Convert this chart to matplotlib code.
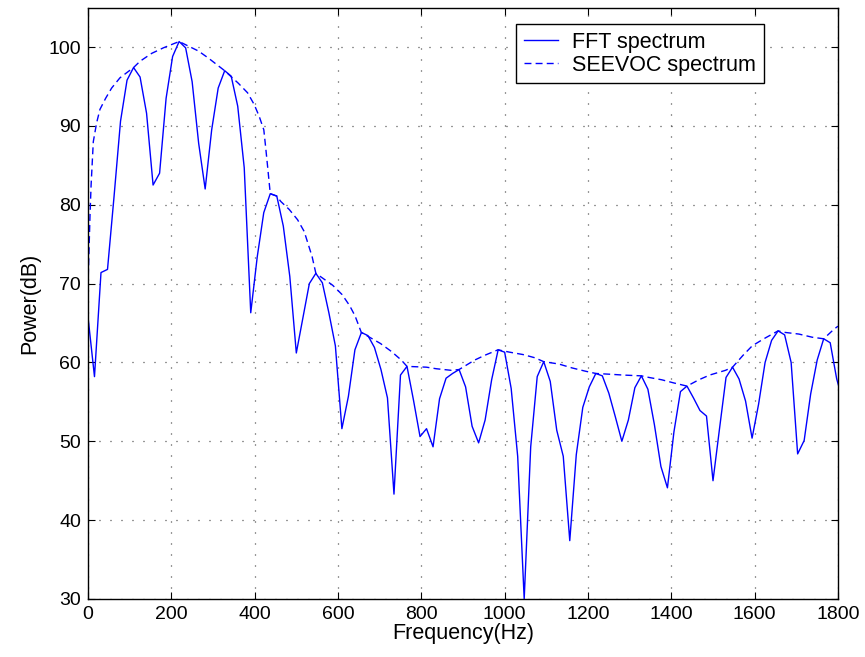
import numpy as np
import matplotlib
matplotlib.use("Agg")
import matplotlib.pyplot as plt

# ---------------------------------------------------------
# Data
# ---------------------------------------------------------
bin_hz = 15.625  # FFT bin spacing (8 kHz / 512)

fft_db = [
    65.8, 58.2, 71.4, 71.8, 81.0, 90.6, 95.8, 97.4, 96.2, 91.6,
    82.5, 84.0, 93.5, 98.8, 100.7, 99.9, 95.6, 87.8, 82.0, 89.5,
    94.8, 97.0, 96.3, 92.5, 84.7, 66.3, 73.4, 79.0, 81.4, 81.1,
    77.3, 70.9, 61.2, 65.6, 70.0, 71.3, 70.1, 66.3, 62.1, 51.6,
    55.7, 61.6, 63.8, 63.4, 61.9, 59.1, 55.5, 43.3, 58.4, 59.5,
    55.2, 50.6, 51.6, 49.3, 55.4, 58.0, 58.6, 59.1, 56.9, 51.9,
    49.8, 52.7, 57.8, 61.6, 61.3, 56.7, 48.1, 30.0, 49.3, 58.2,
    60.1, 57.6, 51.4, 48.1, 37.4, 48.3, 54.3, 56.9, 58.6, 58.3,
    56.1, 53.1, 50.0, 52.7, 56.8, 58.3, 56.6, 52.1, 46.8, 44.1,
    51.2, 56.3, 57.0, 55.5, 53.9, 53.2, 45.0, 51.6, 58.1, 59.4,
    57.9, 55.1, 50.4, 54.7, 60.0, 62.8, 64.0, 63.5, 60.0, 48.4,
    50.1, 56.0, 60.3, 63.0, 62.5, 57.9, 55.0,
]

seevoc_hz = [
    0, 2.4, 4.8, 7.5, 10.4, 12.8, 20.8, 28.8, 42.4, 56.8,
    76.8, 109.4, 125, 153, 181, 218.75, 265, 289, 328, 361,
    383, 399, 411, 422, 427, 431, 437.5, 453, 463, 483,
    503, 519, 538, 546.9, 563, 587, 610, 628, 641, 656,
    702, 728, 752, 765.6, 812, 836, 872, 890.6, 928, 952,
    984, 1012, 1044, 1072, 1093.75, 1130, 1162, 1193, 1218.75, 1254,
    1284, 1328, 1346, 1377, 1406, 1437.5, 1466, 1492, 1530, 1546.9,
    1572, 1594, 1622, 1656, 1674, 1706, 1738, 1765.6, 1790, 1800,
]
seevoc_db = [
    69.5, 74.0, 78.5, 82.5, 85.5, 88.0, 90.4, 92.1, 93.5, 94.8,
    96.1, 97.4, 98.2, 99.2, 99.9, 100.7, 99.5, 98.6, 97.0, 95.4,
    94.2, 92.7, 91.2, 89.5, 87.0, 84.9, 81.4, 81.1, 80.4, 79.4,
    78.1, 76.6, 73.4, 71.3, 70.7, 69.8, 68.6, 67.2, 65.9, 63.8,
    62.4, 61.4, 60.3, 59.5, 59.4, 59.2, 59.0, 59.1, 60.3, 60.9,
    61.6, 61.3, 61.0, 60.6, 60.1, 59.8, 59.3, 58.9, 58.6, 58.5,
    58.4, 58.3, 58.1, 57.8, 57.4, 57.0, 57.8, 58.4, 59.0, 59.4,
    60.9, 62.1, 63.0, 64.0, 63.8, 63.6, 63.2, 63.0, 64.2, 64.6,
]

fft_hz = np.arange(len(fft_db)) * bin_hz

# ---------------------------------------------------------
# Plot (MATLAB-ish look)
# ---------------------------------------------------------
plt.rcParams["font.family"] = ["Liberation Sans", "DejaVu Sans"]

fig = plt.figure(figsize=(8.65, 6.57), dpi=100)
ax = fig.add_axes([0.1017, 0.0883, 0.8671, 0.9001])

ax.plot(fft_hz, fft_db, color="blue", linewidth=1.0, label="FFT spectrum")
ax.plot(seevoc_hz, seevoc_db, color="blue", linewidth=1.0,
        linestyle=(0, (5, 3)), label="SEEVOC spectrum")

ax.set_xlim(0, 1800)
ax.set_ylim(30, 105)
ax.set_xticks(np.arange(0, 1801, 200))
ax.set_yticks(np.arange(30, 101, 10))

ax.grid(True, color="0.2", linestyle=(0, (0.8, 8)), linewidth=0.9)
ax.tick_params(direction="in", length=5, top=True, right=True,
               labelsize=14, pad=5)
for sp in ax.spines.values():
    sp.set_linewidth(1.0)

ax.set_xlabel("Frequency(Hz)", fontsize=15.5, labelpad=0)
ax.set_ylabel("Power(dB)", fontsize=15.5, labelpad=6)

leg = ax.legend(loc="upper left", bbox_to_anchor=(0.571, 0.972),
                borderaxespad=0, fancybox=False, framealpha=1,
                edgecolor="black", handlelength=1.6, fontsize=15.5,
                borderpad=0.35, labelspacing=0.1, handletextpad=0.65)
leg.get_frame().set_linewidth(1.0)

fig.savefig("out.png", dpi=100)
